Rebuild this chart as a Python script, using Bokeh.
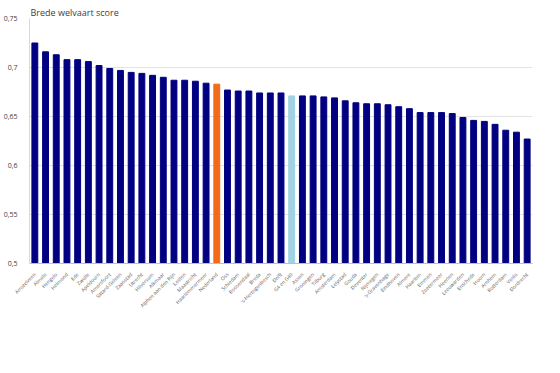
from math import pi
from bokeh.plotting import figure
from bokeh.models import ColumnDataSource, Range1d, FixedTicker, CustomJSTickFormatter
from bokeh.embed import file_html
from bokeh.resources import INLINE

gemeenten = [
    "Amstelveen", "Almelo", "Hengelo", "Helmond", "Ede", "Zwolle", "Apeldoorn",
    "Amersfoort", "Sittard-Geleen", "Zaanstad", "Utrecht", "Hilversum", "Alkmaar",
    "Alphen aan den Rijn", "Leiden", "Maastricht", "Haarlemmermeer", "Nederland",
    "Oss", "Schiedam", "Roosendaal", "Breda", "'s-Hertogenbosch", "Delft",
    "G4 en G40", "Assen", "Groningen", "Tilburg", "Amsterdam", "Lelystad", "Gouda",
    "Deventer", "Nijmegen", "'s-Gravenhage", "Eindhoven", "Almere", "Haarlem",
    "Emmen", "Zoetermeer", "Heerlen", "Leeuwarden", "Enschede", "Hoorn", "Arnhem",
    "Rotterdam", "Venlo", "Dordrecht",
]
score = [
    0.725, 0.716, 0.713, 0.708, 0.708, 0.706, 0.702,
    0.699, 0.697, 0.695, 0.694, 0.692, 0.690,
    0.687, 0.687, 0.686, 0.684, 0.683,
    0.677, 0.676, 0.676, 0.674, 0.674, 0.674,
    0.671, 0.671, 0.671, 0.670, 0.669, 0.666, 0.664,
    0.663, 0.663, 0.662, 0.660, 0.658, 0.654,
    0.654, 0.654, 0.653, 0.649, 0.646, 0.645, 0.642,
    0.636, 0.634, 0.627,
]
y_ticks = [0.5, 0.55, 0.6, 0.65, 0.7, 0.75]

NAVY = "#000080"
ORANGE = "#F26A1B"
LIGHTBLUE = "#9FD2E3"
kleuren = [ORANGE if g == "Nederland" else LIGHTBLUE if g == "G4 en G40" else NAVY
           for g in gemeenten]

src = ColumnDataSource(dict(g=gemeenten, s=score, c=kleuren))

p = figure(x_range=gemeenten, y_range=Range1d(0.5, 0.75),
           frame_width=503, frame_height=245,
           min_border_left=23, min_border_right=18, min_border_top=18,
           min_border_bottom=90,
           output_backend="svg", toolbar_location=None,
           title="Brede welvaart score")

p.vbar(x="g", top="s", bottom=0.5, width=0.55, color="c", source=src)

p.title.text_font = "Open Sans"
p.title.text_font_size = "9px"
p.title.text_font_style = "normal"
p.title.text_color = "#404040"
p.title.standoff = 0
p.title.offset = 1

p.outline_line_color = None
p.background_fill_color = "white"
p.border_fill_color = "white"

p.xgrid.grid_line_color = None
p.ygrid.grid_line_color = "#e3e3e3"
p.ygrid.grid_line_width = 1

p.yaxis.ticker = FixedTicker(ticks=y_ticks)
p.yaxis.formatter = CustomJSTickFormatter(
    code="return tick.toFixed(2).replace(/0$/, '').replace('.', ',');")
p.yaxis.major_label_text_font = "Open Sans"
p.yaxis.major_label_text_font_size = "7px"
p.yaxis.major_label_text_color = "#404040"
p.yaxis.major_label_standoff = 6
p.yaxis.major_tick_line_color = None
p.yaxis.minor_tick_line_color = None
p.yaxis.axis_line_color = "#d9d9d9"

p.xaxis.major_label_orientation = pi / 4
p.xaxis.major_label_text_font = "Open Sans"
p.xaxis.major_label_text_font_size = "5px"
p.xaxis.major_label_text_color = "#595959"
p.xaxis.major_label_standoff = 4
p.xaxis.major_tick_line_color = None
p.xaxis.axis_line_color = "#bfbfbf"

p.x_range.range_padding = 0

open("out.html", "w").write(file_html(p, INLINE))
